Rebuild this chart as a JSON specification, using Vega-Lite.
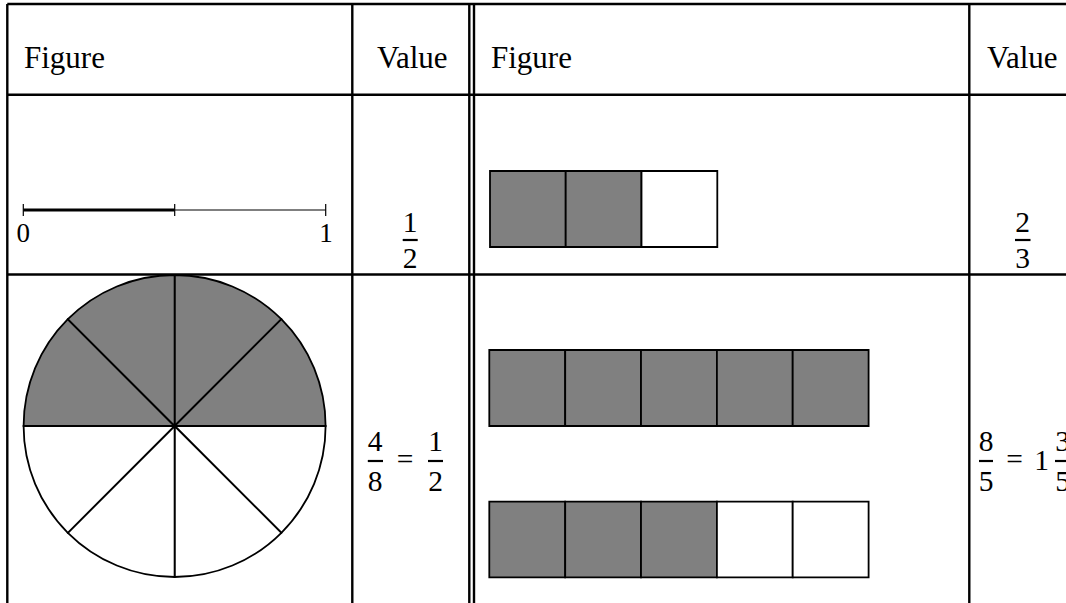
{
  "$schema": "https://vega.github.io/schema/vega-lite/v6.json",
  "width": 1066,
  "height": 603,
  "padding": 0,
  "autosize": {"type": "none"},
  "background": "white",
  "config": {"view": {"stroke": null}},
  "datasets": {
    "table": [
      {"x": 7.3, "x2": 1066, "y": 4, "y2": 4},
      {"x": 7.3, "x2": 1066, "y": 94.7, "y2": 94.7},
      {"x": 7.3, "x2": 1066, "y": 274.5, "y2": 274.5},
      {"x": 7.3, "x2": 7.3, "y": 4, "y2": 603},
      {"x": 352.3, "x2": 352.3, "y": 4, "y2": 603},
      {"x": 469.3, "x2": 469.3, "y": 4, "y2": 603},
      {"x": 474, "x2": 474, "y": 4, "y2": 603},
      {"x": 969.3, "x2": 969.3, "y": 4, "y2": 603}
    ],
    "fracbars": [
      {"x": 402.7, "x2": 417.7, "y": 240, "y2": 240},
      {"x": 1015, "x2": 1030.5, "y": 240, "y2": 240},
      {"x": 367.8, "x2": 383, "y": 461, "y2": 461},
      {"x": 428, "x2": 443, "y": 461, "y2": 461},
      {"x": 979, "x2": 993, "y": 461, "y2": 461},
      {"x": 1055, "x2": 1070, "y": 461, "y2": 461}
    ],
    "numthick": [
      {"x": 23.3, "x2": 174.7, "y": 210, "y2": 210}
    ],
    "numthin": [
      {"x": 174.7, "x2": 325.7, "y": 210, "y2": 210},
      {"x": 23.3, "x2": 23.3, "y": 204, "y2": 216},
      {"x": 174.7, "x2": 174.7, "y": 204, "y2": 216},
      {"x": 325.7, "x2": 325.7, "y": 204, "y2": 216}
    ],
    "boxes": [
      {"x": 490, "x2": 565.7, "y": 171, "y2": 247, "shaded": "yes"},
      {"x": 565.7, "x2": 641.5, "y": 171, "y2": 247, "shaded": "yes"},
      {"x": 641.5, "x2": 717.3, "y": 171, "y2": 247, "shaded": "no"},
      {"x": 489.3, "x2": 565.2, "y": 350, "y2": 426, "shaded": "yes"},
      {"x": 565.2, "x2": 641, "y": 350, "y2": 426, "shaded": "yes"},
      {"x": 641, "x2": 716.9, "y": 350, "y2": 426, "shaded": "yes"},
      {"x": 716.9, "x2": 792.7, "y": 350, "y2": 426, "shaded": "yes"},
      {"x": 792.7, "x2": 868.6, "y": 350, "y2": 426, "shaded": "yes"},
      {"x": 489.3, "x2": 565.2, "y": 501.7, "y2": 577.3, "shaded": "yes"},
      {"x": 565.2, "x2": 641, "y": 501.7, "y2": 577.3, "shaded": "yes"},
      {"x": 641, "x2": 716.9, "y": 501.7, "y2": 577.3, "shaded": "yes"},
      {"x": 716.9, "x2": 792.7, "y": 501.7, "y2": 577.3, "shaded": "no"},
      {"x": 792.7, "x2": 868.6, "y": 501.7, "y2": 577.3, "shaded": "no"}
    ],
    "sectors": [
      {"k": 0, "v": 1, "cx": 174.6, "cy": 426, "shaded": "yes"},
      {"k": 1, "v": 1, "cx": 174.6, "cy": 426, "shaded": "yes"},
      {"k": 2, "v": 1, "cx": 174.6, "cy": 426, "shaded": "no"},
      {"k": 3, "v": 1, "cx": 174.6, "cy": 426, "shaded": "no"},
      {"k": 4, "v": 1, "cx": 174.6, "cy": 426, "shaded": "no"},
      {"k": 5, "v": 1, "cx": 174.6, "cy": 426, "shaded": "no"},
      {"k": 6, "v": 1, "cx": 174.6, "cy": 426, "shaded": "yes"},
      {"k": 7, "v": 1, "cx": 174.6, "cy": 426, "shaded": "yes"}
    ],
    "headers": [
      {"x": 24, "y": 68, "t": "Figure"},
      {"x": 377, "y": 68, "t": "Value"},
      {"x": 491, "y": 68, "t": "Figure"},
      {"x": 987, "y": 68, "t": "Value"}
    ],
    "math": [
      {"x": 410, "y": 231.5, "t": "1"},
      {"x": 410, "y": 267.5, "t": "2"},
      {"x": 1022.7, "y": 231.5, "t": "2"},
      {"x": 1022.7, "y": 267.5, "t": "3"},
      {"x": 375, "y": 450.5, "t": "4"},
      {"x": 375, "y": 490.5, "t": "8"},
      {"x": 405, "y": 469, "t": "="},
      {"x": 435.5, "y": 450.5, "t": "1"},
      {"x": 435.5, "y": 490.5, "t": "2"},
      {"x": 986, "y": 450.5, "t": "8"},
      {"x": 986, "y": 490.5, "t": "5"},
      {"x": 1014.5, "y": 469, "t": "="},
      {"x": 1041.5, "y": 469.5, "t": "1"},
      {"x": 1062.5, "y": 450.5, "t": "3"},
      {"x": 1062.5, "y": 490.5, "t": "5"}
    ],
    "labels": [
      {"x": 23.3, "y": 241.5, "t": "0"},
      {"x": 326, "y": 241.5, "t": "1"}
    ]
  },
  "layer": [
    {
      "data": {"name": "boxes"},
      "mark": {"type": "rect", "stroke": "black", "strokeWidth": 1.8},
      "encoding": {
        "x": {"field": "x", "type": "quantitative", "scale": {"domain": [0, 1066], "nice": false, "zero": false}, "axis": null},
        "x2": {"field": "x2"},
        "y": {"field": "y", "type": "quantitative", "scale": {"domain": [0, 603], "nice": false, "zero": false, "reverse": true}, "axis": null},
        "y2": {"field": "y2"},
        "fill": {"field": "shaded", "type": "nominal", "scale": {"domain": ["yes", "no"], "range": ["#808080", "#ffffff"]}, "legend": null}
      }
    },
    {
      "data": {"name": "sectors"},
      "mark": {"type": "arc", "radius": 151, "stroke": "black", "strokeWidth": 1.8, "strokeJoin": "miter"},
      "encoding": {
        "x": {"field": "cx", "type": "quantitative"},
        "y": {"field": "cy", "type": "quantitative"},
        "theta": {"field": "v", "type": "quantitative", "stack": true},
        "order": {"field": "k", "type": "quantitative"},
        "fill": {"field": "shaded", "type": "nominal", "legend": null}
      }
    },
    {
      "data": {"name": "table"},
      "mark": {"type": "rule", "color": "black", "strokeWidth": 2.4},
      "encoding": {
        "x": {"field": "x", "type": "quantitative"},
        "x2": {"field": "x2"},
        "y": {"field": "y", "type": "quantitative"},
        "y2": {"field": "y2"}
      }
    },
    {
      "data": {"name": "fracbars"},
      "mark": {"type": "rule", "color": "black", "strokeWidth": 2.2},
      "encoding": {
        "x": {"field": "x", "type": "quantitative"},
        "x2": {"field": "x2"},
        "y": {"field": "y", "type": "quantitative"},
        "y2": {"field": "y2"}
      }
    },
    {
      "data": {"name": "numthick"},
      "mark": {"type": "rule", "color": "black", "strokeWidth": 3.2},
      "encoding": {
        "x": {"field": "x", "type": "quantitative"},
        "x2": {"field": "x2"},
        "y": {"field": "y", "type": "quantitative"},
        "y2": {"field": "y2"}
      }
    },
    {
      "data": {"name": "numthin"},
      "mark": {"type": "rule", "color": "black", "strokeWidth": 1.2},
      "encoding": {
        "x": {"field": "x", "type": "quantitative"},
        "x2": {"field": "x2"},
        "y": {"field": "y", "type": "quantitative"},
        "y2": {"field": "y2"}
      }
    },
    {
      "data": {"name": "headers"},
      "mark": {"type": "text", "align": "left", "baseline": "alphabetic", "font": "Liberation Serif", "fontSize": 31, "color": "black"},
      "encoding": {
        "x": {"field": "x", "type": "quantitative"},
        "y": {"field": "y", "type": "quantitative"},
        "text": {"field": "t"}
      }
    },
    {
      "data": {"name": "math"},
      "mark": {"type": "text", "align": "center", "baseline": "alphabetic", "font": "Liberation Serif", "fontSize": 29.5, "color": "black"},
      "encoding": {
        "x": {"field": "x", "type": "quantitative"},
        "y": {"field": "y", "type": "quantitative"},
        "text": {"field": "t"}
      }
    },
    {
      "data": {"name": "labels"},
      "mark": {"type": "text", "align": "center", "baseline": "alphabetic", "font": "Liberation Serif", "fontSize": 27, "color": "black"},
      "encoding": {
        "x": {"field": "x", "type": "quantitative"},
        "y": {"field": "y", "type": "quantitative"},
        "text": {"field": "t"}
      }
    }
  ]
}
